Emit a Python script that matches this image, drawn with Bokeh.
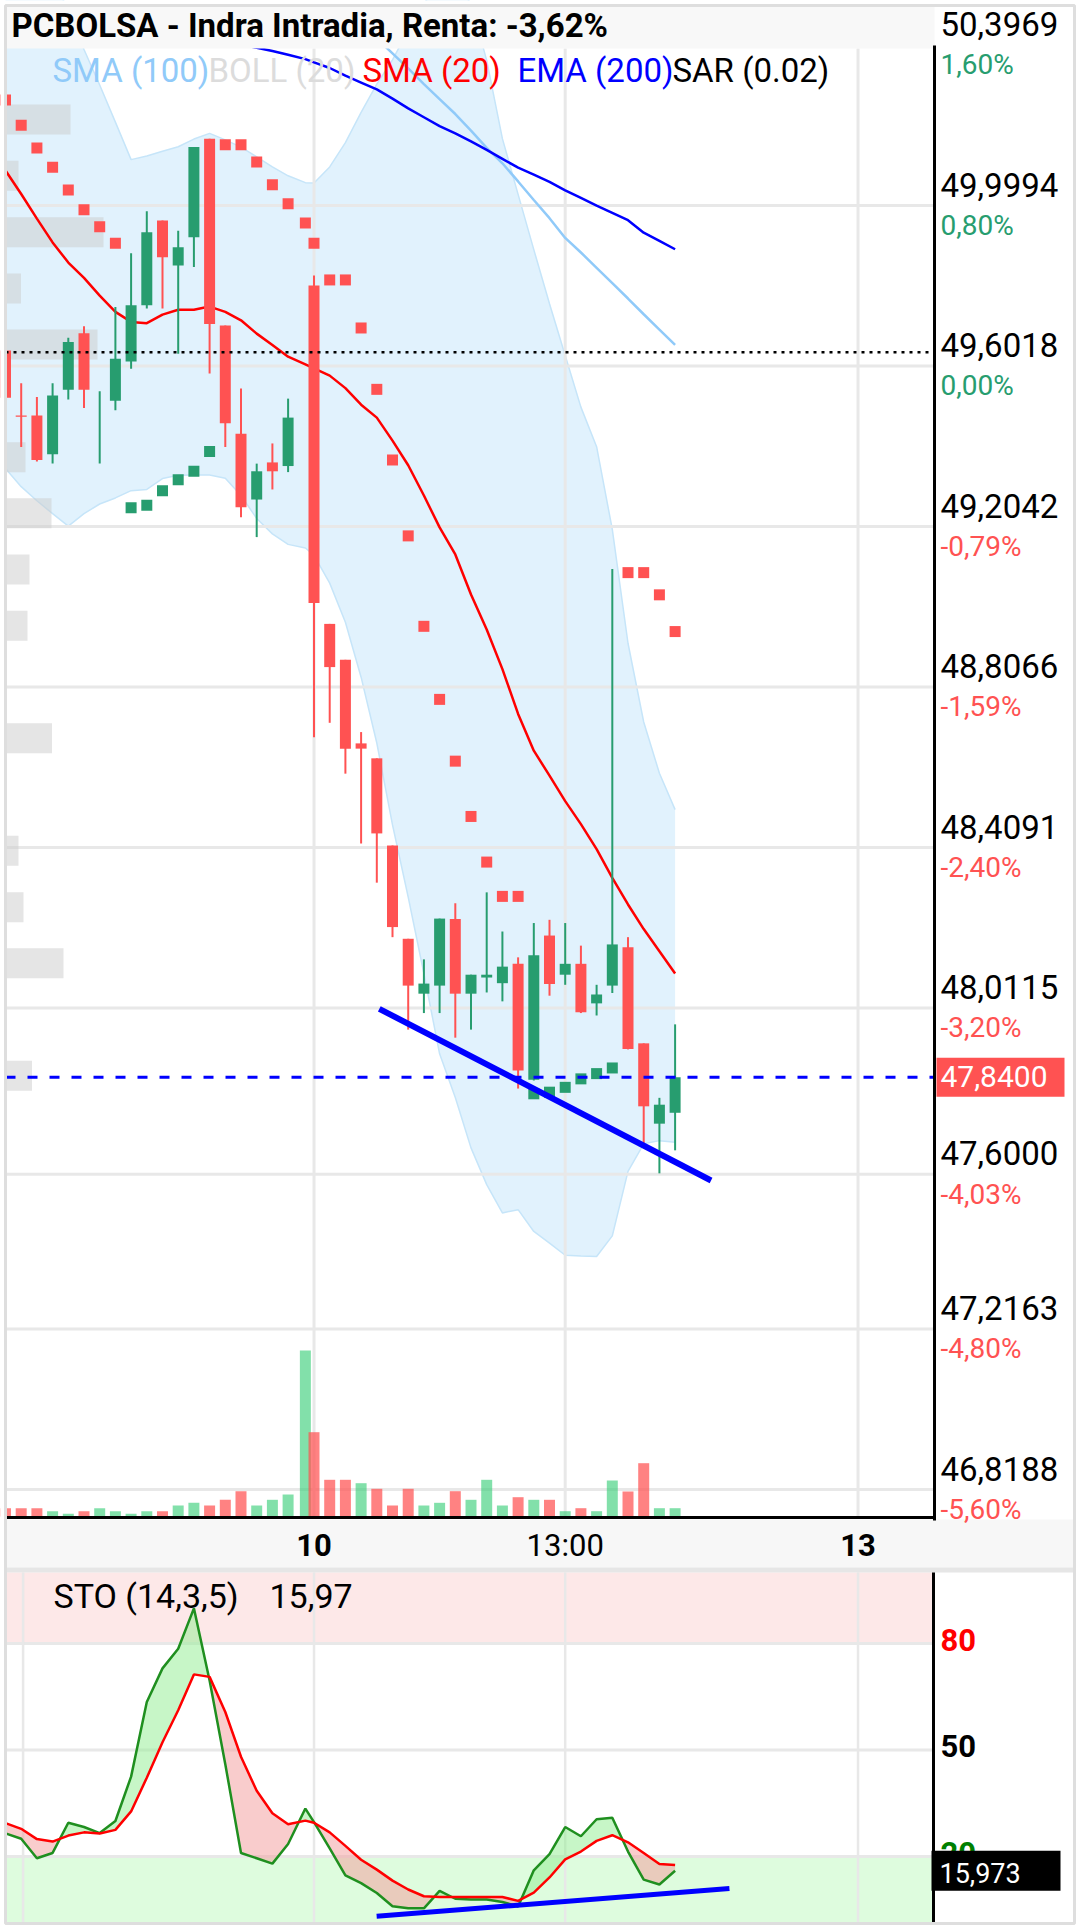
import numpy as np
from bokeh.plotting import figure
from bokeh.models import Range1d
from bokeh.embed import file_html
from bokeh.resources import INLINE
from bokeh.core.properties import value

nan = float("nan")

# ======================= DATA =======================
# 15-minute bar slots: day 9 (12:45 .. 17:15), closing auction, day 10 (09:00 .. 14:45)
slot = [-1, 0, 1, 2, 3, 4, 5, 6, 7, 8, 9, 10, 11, 12, 13, 14, 15, 16, 17,
        18.1,
        18.65, 19.65, 20.65, 21.65, 22.65, 23.65, 24.65, 25.65, 26.65, 27.65, 28.65, 29.65,
        30.65, 31.65, 32.65, 33.65, 34.65, 35.65, 36.65, 37.65, 38.65, 39.65, 40.65, 41.65]

open_ = [49.640, 49.479, 49.479, 49.383, 49.543, 49.683, 49.539, 49.516, 49.613, 49.752,
         49.962, 49.851, 49.921, 50.165, 49.702, 49.434, 49.271, 49.363, 49.354,
         nan,
         49.801, 48.963, 48.874, 48.667, 48.630, 48.414, 48.183, 48.047, 48.067, 48.232,
         48.047, 48.087, 48.073, 48.121, 47.834, 48.191, 48.094, 48.121, 48.023, 48.067,
         48.162, 47.924, 47.725, 47.752]
high = [49.658, 49.559, 49.525, 49.559, 49.672, 49.700, 49.539, 49.748, 49.881, 49.985,
        49.962, 49.937, 50.144, 50.165, 49.702, 49.546, 49.360, 49.410, 49.521,
        nan,
        49.826, 48.963, 48.874, 48.695, 48.630, 48.414, 48.183, 48.132, 48.233, 48.271,
        48.094, 48.298, 48.201, 48.137, 48.222, 48.230, 48.222, 48.166, 48.069, 49.099,
        48.187, 47.924, 47.789, 47.971]
low = [49.445, 49.401, 49.365, 49.360, 49.519, 49.498, 49.360, 49.492, 49.595, 49.744,
       49.744, 49.632, 49.847, 49.583, 49.401, 49.227, 49.178, 49.296, 49.339,
       nan,
       48.682, 48.718, 48.592, 48.419, 48.322, 48.187, 47.958, 47.999, 47.999, 47.938,
       47.958, 48.050, 48.028, 47.812, 47.832, 48.042, 48.069, 47.999, 47.993, 48.049,
       47.909, 47.677, 47.602, 47.659]
close = [49.523, 49.476, 49.369, 49.529, 49.661, 49.543, 49.539, 49.620, 49.752, 49.933,
         49.871, 49.896, 50.144, 49.706, 49.460, 49.252, 49.341, 49.341, 49.474,
         nan,
         49.015, 48.856, 48.654, 48.654, 48.444, 48.212, 48.067, 48.072, 48.233, 48.047,
         48.094, 48.094, 48.114, 47.857, 48.142, 48.071, 48.121, 48.001, 48.045, 48.169,
         47.910, 47.768, 47.772, 47.840]

volume = [8.3, 8.3, 8.3, 5.3, 2.7, 5.3, 8.3, 5.3, 2.7, 5.3, 5.3, 11, 13.7, 11, 16.7, 25.3, 11, 16.7, 22,
          166,
          84.3, 36.7, 36.7, 33.3, 27.7, 11, 27.7, 11, 13.7, 25.3, 16.7, 36.7, 11, 19.3, 16.7, 16.7,
          5.3, 8.3, 5.3, 36, 25, 53.3, 8.3, 8.3]
volume_up = [0, 0, 0, 1, 1, 0, 1, 1, 1, 1, 0, 1, 1, 0, 0, 0, 1, 1, 1,
             1,
             0, 0, 0, 1, 0, 0, 0, 1, 1, 0, 1, 1, 1, 0, 1, 0, 1, 0, 1, 1, 0, 0, 1, 1]

sma20 = [50.086, 50.028, 49.967, 49.908, 49.858, 49.820, 49.776, 49.736, 49.711, 49.708,
         49.729, 49.741, 49.741, 49.749, 49.736, 49.715, 49.682, 49.654, 49.625,
         49.606,
         49.596, 49.578, 49.547, 49.506, 49.474, 49.417, 49.356, 49.281, 49.202, 49.135,
         49.036, 48.949, 48.851, 48.740, 48.649, 48.587, 48.524, 48.467, 48.405, 48.334,
         48.268, 48.207, 48.152, 48.097]
boll_up = [50.62, 50.62, 50.60, 50.569, 50.480, 50.386, 50.298, 50.206, 50.113, 50.122,
           50.134, 50.145, 50.164, 50.178, 50.162, 50.144, 50.120, 50.095, 50.073,
           50.056,
           50.055, 50.095, 50.155, 50.230, 50.300, 50.360, 50.433, 50.50, 50.55, 50.55,
           50.50, 50.359, 50.165, 50.027, 49.890, 49.756, 49.628, 49.500, 49.402, 49.197,
           48.915, 48.720, 48.593, 48.503]
boll_lo = [49.348, 49.303, 49.268, 49.236, 49.205, 49.236, 49.260, 49.275, 49.293, 49.296,
           49.323, 49.331, 49.332, 49.332, 49.324, 49.281, 49.224, 49.186, 49.160,
           49.151,
           49.133, 49.064, 48.967, 48.831, 48.668, 48.465, 48.286, 48.097, 47.898, 47.790,
           47.665, 47.574, 47.504, 47.512, 47.458, 47.429, 47.399, 47.397, 47.396, 47.447,
           47.607, 47.675, 47.683, 47.679]
ema200 = [nan] * 14 + [50.407, 50.399, 50.390, 50.382, 50.373,
                       50.362,
                       50.354, 50.340, 50.321, 50.304, 50.287, 50.264, 50.240, 50.218, 50.196, 50.178,
                       50.158, 50.137, 50.115, 50.093, 50.076, 50.058, 50.037, 50.018, 49.999, 49.981,
                       49.963, 49.932, 49.912, 49.891]
sma100 = [nan] * 24 + [50.413, 50.376, 50.339, 50.300, 50.263, 50.226, 50.185, 50.142, 50.104, 50.059,
                       50.013, 49.968, 49.919, 49.883, 49.845, 49.807, 49.769, 49.730, 49.692, 49.654]
sar = [50.261, 50.198, 50.142, 50.094, 50.038, 49.989, 49.947, 49.906,
       49.251, 49.257, 49.293, 49.320, 49.341, 49.390,
       50.150, 50.150, 50.107, 50.051, 50.004,
       49.956,
       49.906, 49.815, 49.815, 49.696, 49.544, 49.369, 49.181, 48.957, 48.776, 48.623,
       48.486, 48.373, 48.288, 48.288,
       47.799, 47.803, 47.815, 47.836, 47.849, 47.863,
       49.090, 49.090, 49.035, 48.944]

sto_k = [26.5, 25.0, 19.5, 21.0, 29.5, 28.3, 26.6, 30.0, 42.5, 63.5, 73.0, 78.5, 89.9, 69.6, 46.0,
         21.0, 19.5, 18.0, 23.5,
         33.5,
         29.7, 22.3, 14.7, 12.5, 9.7, 6.0, 5.4, 5.4, 10.3, 8.1, 7.9, 7.9, 7.2, 5.9, 16.1, 20.7,
         28.3, 25.7, 30.5, 30.9, 21.4, 13.5, 12.1, 15.97]
sto_d = [29.4, 27.8, 24.9, 24.2, 25.9, 26.8, 26.5, 27.5, 32.7, 42.2, 52.2, 61.2, 71.3, 70.6, 60.7,
         48.1, 38.5, 32.2, 29.1,
         30.1,
         29.5, 26.8, 23.0, 19.1, 16.3, 13.2, 10.7, 8.8, 8.6, 8.6, 8.6, 8.6, 8.6, 7.5, 9.8, 14.1,
         19.2, 21.4, 24.4, 26.0, 24.0, 21.0, 17.9, 17.6]

# volume profile (price level, volume)
profile_price = [50.2124, 50.0728, 49.9333, 49.7938, 49.6551, 49.3759, 49.2372, 49.0977,
                 48.9582, 48.6798, 48.4008, 48.2608, 48.1225, 47.8435]
profile_vol = [65, 13, 98, 15.5, 92, 20, 46, 24, 22, 46.5, 13, 18, 58, 26.5]

# drawn trend lines
trend_slots = [22.81, 43.94]
trend_prices = [48.0095, 47.5842]
sto_trend_slots = [22.64, 45.11]
sto_trend_vals = [3.15, 11.0]

prev_close = 49.636
last_price = 47.84
last_label = "47,8400"
sto_last_label = "15,973"
sto_value_label = "15,97"

price_ticks = [50.3969, 49.9994, 49.6018, 49.2042, 48.8066, 48.4091, 48.0115, 47.6000, 47.2163, 46.8188]
price_tick_labels = ["50,3969", "49,9994", "49,6018", "49,2042", "48,8066", "48,4091",
                     "48,0115", "47,6000", "47,2163", "46,8188"]
pct_labels = ["1,60%", "0,80%", "0,00%", "-0,79%", "-1,59%", "-2,40%", "-3,20%", "-4,03%", "-4,80%", "-5,60%"]

x_tick_slots = [18.65, 34.65, 53.3]
x_tick_labels = ["10", "13:00", "13"]
x_tick_styles = ["bold", "normal", "bold"]
sto_vgrid_slots = [0.12, 18.65, 34.65, 53.3]
sto_levels = [80, 50, 20]
sto_level_labels = ["80", "50", "20"]
sto_level_colors = ["#ff0000", "#000000", "#008000"]

title_text = "PCBOLSA - Indra Intradia, Renta: -3,62%"
legend_items = ["SMA (100)", "BOLL (20)", "SMA (20)", "EMA (200)", "SAR (0.02)"]
legend_colors = ["#90caf9", "#dcdcdc", "#ff0000", "#0000ff", "#000000"]
legend_x = [52, 208, 362, 517, 672]

# ======================= LAYOUT / STYLE =======================
W, H = 1076, 1925
SLOT_PX, SLOT0_X = 15.7, 20.7
EURO_PX, TOP_PRICE = 403.7, 50.5072
STO80_Y, STO_PX = 1643.0, 3.55
VOL_BASE_Y = 1516.0
GREEN, RED = "#279d6f", "#ff5252"
GRID = "#e8e8e8"
FONT = value("Roboto")
BL = 0.36  # baseline correction (in em) for the svg text renderer


def up(fs):
    return BL * fs


p = figure(width=W, height=H, output_backend="svg", toolbar_location=None, title=None,
           x_range=Range1d(-SLOT0_X / SLOT_PX, (W - SLOT0_X) / SLOT_PX),
           y_range=Range1d(TOP_PRICE - H / EURO_PX, TOP_PRICE),
           min_border=0, x_axis_location=None, y_axis_location=None,
           outline_line_color=None, background_fill_color="white", border_fill_color="white")
p.xgrid.visible = False
p.ygrid.visible = False
p.extra_x_ranges = {"px": Range1d(0, W)}
p.extra_y_ranges = {
    "py": Range1d(H, 0),
    "sto": Range1d(80 - (H - STO80_Y) / STO_PX, 80 + STO80_Y / STO_PX),
    "vol": Range1d(VOL_BASE_Y - H, VOL_BASE_Y),
}

x = np.array(slot, float)
o = np.array(open_, float); hi = np.array(high, float)
lo = np.array(low, float); c = np.array(close, float)

# ---- stochastic zones
p.quad(left=5, right=933, bottom=80, top=100, x_range_name="px", y_range_name="sto",
       fill_color="#fde8e8", line_color=None)
p.quad(left=5, right=933, bottom=1.4, top=20, x_range_name="px", y_range_name="sto",
       fill_color="#defcde", line_color=None)

# ---- bollinger band
p.varea(x=x, y1=boll_lo, y2=boll_up, fill_color="#e1f2fd")
p.line(x, boll_up, line_color="#c6e5f9", line_width=1.5)
p.line(x, boll_lo, line_color="#c6e5f9", line_width=1.5)

# ---- grid lines
p.segment(x0=5, x1=934, y0=price_ticks, y1=price_ticks, x_range_name="px",
          line_color=GRID, line_width=3)
p.segment(x0=x_tick_slots, x1=x_tick_slots, y0=48, y1=1517, y_range_name="py",
          line_color=GRID, line_width=3)
p.segment(x0=5, x1=933, y0=sto_levels, y1=sto_levels, x_range_name="px", y_range_name="sto",
          line_color=GRID, line_width=3)
p.segment(x0=sto_vgrid_slots, x1=sto_vgrid_slots, y0=1572, y1=1922, y_range_name="py",
          line_color=GRID, line_width=2.5)

# ---- volume profile
p.hbar(y=profile_price, height=30 / EURO_PX, left=5, right=[5 + v for v in profile_vol],
       x_range_name="px", fill_color="#cccccc", fill_alpha=0.5, line_color=None)

# ---- volume bars
vcol = ["#2ecc71" if u else "#ff5252" for u in volume_up]
valpha = [0.6 if u else 0.72 for u in volume_up]
p.vbar(x=x, width=0.7, bottom=0, top=volume, y_range_name="vol",
       fill_color=vcol, fill_alpha=valpha, line_color=None)

# ---- moving averages
p.line(x, sma100, line_color="#90caf9", line_width=2.5)
p.line(x, ema200, line_color="#0000ff", line_width=2.5)
p.line(x, sma20, line_color="#ff0000", line_width=2.5)

# ---- candles
ccol = [GREEN if cc >= oo else RED for oo, cc in zip(o, c)]
p.segment(x0=x, x1=x, y0=lo, y1=hi, line_color=ccol, line_width=2)
p.vbar(x=x, width=0.7, top=np.maximum(o, c), bottom=np.minimum(o, c),
       fill_color=ccol, line_color=None)

# ---- parabolic SAR
ref = []
last = nan
for cc in c:
    if not np.isnan(cc):
        last = cc
    ref.append(last)
scol = [RED if s > r else GREEN for s, r in zip(sar, ref)]
p.scatter(x=x, y=sar, marker="square", size=11, fill_color=scol, line_color=None)

# ---- reference lines
p.segment(x0=5, x1=934, y0=prev_close, y1=prev_close, x_range_name="px",
          line_color="black", line_width=2.5, line_dash="3 5")
p.segment(x0=5, x1=934, y0=last_price, y1=last_price, x_range_name="px",
          line_color="#0000ff", line_width=3, line_dash="10 12")
p.line(trend_slots, trend_prices, line_color="#0000ff", line_width=6)

# ---- stochastic
def cross_fill(xs, a, b):
    X, A, B = [xs[0]], [a[0]], [b[0]]
    for i in range(1, len(xs)):
        d0 = a[i - 1] - b[i - 1]
        d1 = a[i] - b[i]
        if d0 * d1 < 0:
            t = d0 / (d0 - d1)
            xc = xs[i - 1] + t * (xs[i] - xs[i - 1])
            yc = a[i - 1] + t * (a[i] - a[i - 1])
            X.append(xc); A.append(yc); B.append(yc)
        X.append(xs[i]); A.append(a[i]); B.append(b[i])
    return np.array(X), np.array(A), np.array(B)

FX, FK, FD = cross_fill(list(x), sto_k, sto_d)
ftop = np.maximum(FK, FD)
p.varea(x=FX, y1=FD, y2=ftop, y_range_name="sto", fill_color="#90ee90", fill_alpha=0.5)
p.varea(x=FX, y1=FK, y2=ftop, y_range_name="sto", fill_color="#f49a9a", fill_alpha=0.5)
p.line(x, sto_k, y_range_name="sto", line_color="#1f8f1f", line_width=2.5)
p.line(x, sto_d, y_range_name="sto", line_color="#ff0000", line_width=2.5)
p.line(sto_trend_slots, sto_trend_vals, y_range_name="sto", line_color="#0000ff", line_width=5)

# ---- masks, frame pieces
p.quad(left=0, right=W, top=0, bottom=5, x_range_name="px", y_range_name="py",
       fill_color="white", line_color=None)
p.quad(left=0, right=5, top=0, bottom=H, x_range_name="px", y_range_name="py",
       fill_color="white", line_color=None)
p.quad(left=6, right=934, top=6, bottom=48, x_range_name="px", y_range_name="py",
       fill_color="#f8f8f8", line_color=None)
p.quad(left=5, right=1073, top=1519, bottom=1567, x_range_name="px", y_range_name="py",
       fill_color="#f7f7f7", line_color=None)
p.quad(left=5, right=1073, top=1567, bottom=1572, x_range_name="px", y_range_name="py",
       fill_color="#e6e6e6", line_color=None)
p.segment(x0=[934, 5, 933], x1=[934, 935.5, 933], y0=[45, 1517, 1572], y1=[1520, 1517, 1923],
          x_range_name="px", y_range_name="py", line_color="black", line_width=3)
p.quad(left=5, right=1074, top=5, bottom=1923, x_range_name="px", y_range_name="py",
       fill_alpha=0, line_color="#dedede", line_width=3)

# ---- texts
p.text(x=[11], y=[37], text=[title_text], x_range_name="px", y_range_name="py", y_offset=-up(33),
       text_font=FONT, text_font_size="33px", text_font_style="bold", text_color="black",
       text_baseline="alphabetic")
p.text(x=legend_x, y=82, text=legend_items, x_range_name="px", y_range_name="py", y_offset=-up(33),
       text_font=FONT, text_font_size="33px", text_color=legend_colors, text_baseline="alphabetic")

p.text(x=940, y=price_ticks, text=price_tick_labels, x_range_name="px", y_offset=-9 - up(33),
       text_font=FONT, text_font_size="33px", text_color="black", text_baseline="alphabetic")
pct_colors = [RED if s.startswith("-") else GREEN for s in pct_labels]
p.text(x=940, y=price_ticks, text=pct_labels, x_range_name="px", y_offset=30 - up(28),
       text_font=FONT, text_font_size="28px", text_color=pct_colors, text_baseline="alphabetic")

cy = (TOP_PRICE - last_price) * EURO_PX
p.quad(left=936, right=1064, top=cy - 19.5, bottom=cy + 19.5, x_range_name="px", y_range_name="py",
       fill_color=RED, line_color=None)
p.text(x=[940], y=[cy + 10.5], text=[last_label], x_range_name="px", y_range_name="py",
       y_offset=-up(30),
       text_font=FONT, text_font_size="30px", text_color="white", text_baseline="alphabetic")

p.text(x=x_tick_slots, y=1556, text=x_tick_labels, y_range_name="py", y_offset=-up(31),
       text_font=FONT, text_font_size="31px", text_font_style=x_tick_styles, text_color="black",
       text_align="center", text_baseline="alphabetic")

p.text(x=[53, 269], y=[1608, 1608], text=["STO (14,3,5)", sto_value_label],
       x_range_name="px", y_range_name="py", y_offset=-up(34),
       text_font=FONT, text_font_size="34px", text_color="black", text_baseline="alphabetic")
p.text(x=940, y=sto_levels, text=sto_level_labels, x_range_name="px", y_range_name="sto",
       y_offset=11 - 15,
       text_font=FONT, text_font_size="31px", text_font_style="bold", text_color=sto_level_colors,
       text_baseline="alphabetic")
sy = STO80_Y + (80 - sto_k[-1]) * STO_PX
p.quad(left=931, right=1060, top=sy - 20, bottom=sy + 20, x_range_name="px", y_range_name="py",
       fill_color="black", line_color=None)
p.text(x=[939], y=[sy + 10], text=[sto_last_label], x_range_name="px", y_range_name="py",
       y_offset=-up(27) + 2,
       text_font=FONT, text_font_size="27px", text_color="white", text_baseline="alphabetic")

open("out.html", "w").write(file_html(p, INLINE))
